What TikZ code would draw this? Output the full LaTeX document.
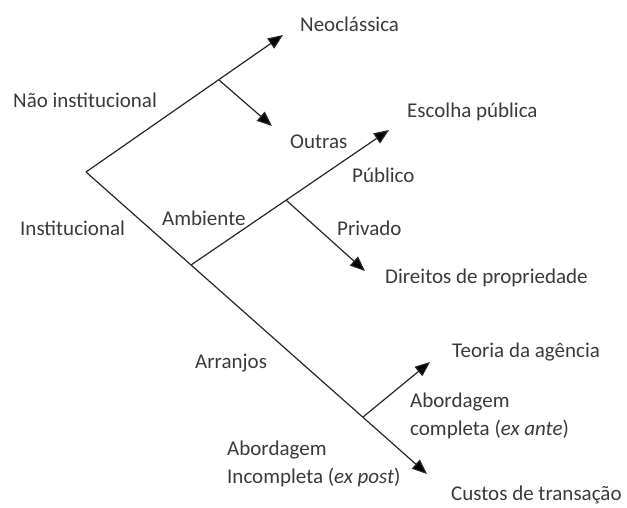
\documentclass[tikz,border=0pt]{standalone}
\usepackage{fontspec}
\setmainfont{Carlito}
\usetikzlibrary{positioning, arrows.meta}
\definecolor{txtgray}{HTML}{3A3A3A}
\definecolor{linegray}{HTML}{262626}

\begin{document}
\begin{tikzpicture}[x=1pt, y=-1pt,
    lbl/.style={anchor=west, inner sep=0pt, text=txtgray, align=left,
        font=\fontsize{21}{28}\selectfont},
    tip/.style={-{Triangle[length=15pt, width=12pt]}}]
\useasboundingbox (0,0) rectangle (627,507);

% branch points and arrow ends
\coordinate (root) at (86,172);
\coordinate (naoj) at (219,80);
\coordinate (ambj) at (191,265);
\coordinate (privj) at (286,200);
\coordinate (agj) at (363,417);
\coordinate (neo) at (283,35);
\coordinate (outras) at (272,126);
\coordinate (escolha) at (389,130);
\coordinate (direitos) at (365,271);
\coordinate (agencia) at (430,362);
\coordinate (custos) at (427,474);

\node[lbl] (lneo) at (300,24) {Neoclássica};
\node[lbl] (lnao) at (13,100) {Não institucional};
\node[lbl] (loutras) at (290,142) {Outras};
\node[lbl] (lescolha) at (407,112) {Escolha pública};
\node[lbl] (lpublico) at (352,175) {Público};
\node[lbl] (linst) at (20,228) {Institucional};
\node[lbl] (lamb) at (162,218) {Ambiente};
\node[lbl] (lpriv) at (337,228) {Privado};
\node[lbl] (ldireitos) at (385,278) {Direitos de propriedade};
\node[lbl] (larr) at (195,363) {Arranjos};
\node[lbl] (lagencia) at (452,352) {Teoria da agência};
\node[lbl] (lcompleta) at (410,416) {Abordagem\\completa (\textit{ex ante})};
\node[lbl] (lincompleta) at (227,464) {Abordagem\\Incompleta (\textit{ex post})};
\node[lbl] (lcustos) at (451,495) {Custos de transação};

\draw[draw=linegray, line width=1.2pt]
    (root) edge[tip] (neo)
    (naoj) edge[tip] (outras)
    (root) edge[tip] (custos)
    (ambj) edge[tip] (escolha)
    (privj) edge[tip] (direitos)
    (agj) edge[tip] (agencia)
    ;
\end{tikzpicture}
\end{document}
